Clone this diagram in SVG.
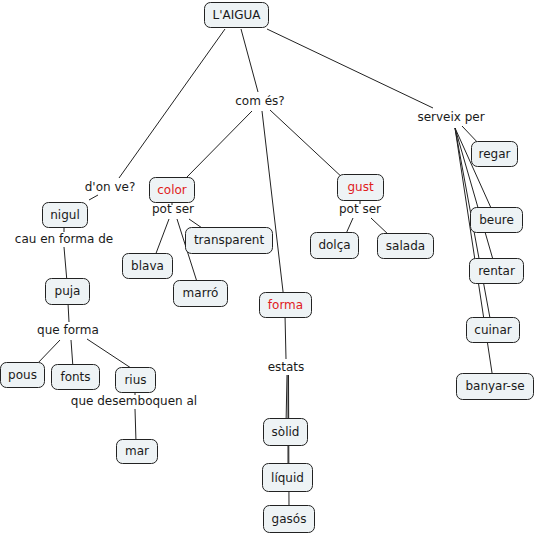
<svg xmlns="http://www.w3.org/2000/svg" width="537" height="535" viewBox="0 0 537 535">
<style>
.c line{stroke:#222;stroke-width:1;fill:none}
.n rect{fill:#eef3f5;stroke:#222;stroke-width:1}
text{font-family:"DejaVu Sans",Verdana,sans-serif;font-size:12px;fill:#1a1a1a;text-anchor:middle}
.r text{fill:#e0201c}
</style>
<rect width="537" height="535" fill="#fff"/>
<g id="connectors" class="c">
<line x1="225" y1="29" x2="119" y2="178"/>
<line x1="98" y1="195" x2="89" y2="200"/>
<line x1="241" y1="29" x2="258" y2="92"/>
<line x1="252" y1="111" x2="187" y2="177"/>
<line x1="262" y1="111" x2="284" y2="300"/>
<line x1="270" y1="110" x2="345" y2="180"/>
<line x1="267" y1="29" x2="433" y2="108"/>
<line x1="462" y1="126" x2="480" y2="145"/>
<line x1="455" y1="128" x2="496" y2="219"/>
<line x1="455" y1="128" x2="496" y2="270"/>
<line x1="455" y1="128" x2="492" y2="329"/>
<line x1="455" y1="128" x2="494" y2="386"/>
<line x1="172" y1="200" x2="172" y2="205"/>
<line x1="169" y1="219" x2="155" y2="256"/>
<line x1="177" y1="219" x2="198" y2="285"/>
<line x1="189" y1="219" x2="205" y2="230"/>
<line x1="64" y1="226" x2="64" y2="232"/>
<line x1="64" y1="247" x2="67" y2="282"/>
<line x1="68" y1="303" x2="69" y2="322"/>
<line x1="60" y1="340" x2="36" y2="365"/>
<line x1="71" y1="340" x2="73" y2="368"/>
<line x1="87" y1="339" x2="134" y2="370"/>
<line x1="135" y1="391" x2="135" y2="395"/>
<line x1="135" y1="409" x2="136" y2="442"/>
<line x1="285" y1="315" x2="286" y2="359"/>
<line x1="287" y1="375" x2="286" y2="425"/>
<line x1="288" y1="375" x2="288" y2="470"/>
<line x1="288.5" y1="375" x2="289" y2="510"/>
<line x1="360" y1="198" x2="360" y2="204"/>
<line x1="353" y1="218" x2="345" y2="236"/>
<line x1="371" y1="218" x2="390" y2="236"/>
</g>
<g id="labels">
<text x="260" y="105">com és?</text>
<text x="451" y="121">serveix per</text>
<text x="110" y="191">d'on ve?</text>
<text x="173" y="213">pot ser</text>
<text x="360" y="213">pot ser</text>
<text x="64" y="243">cau en forma de</text>
<text x="68" y="334">que forma</text>
<text x="134" y="405">que desemboquen al</text>
<text x="286" y="371">estats</text>
</g>
<g id="n-aigua" class="n"><rect x="204.5" y="2.5" width="64" height="25" rx="6"/><text x="236.5" y="19">L'AIGUA</text></g>
<g id="n-nigul" class="n"><rect x="42.5" y="202.5" width="45" height="25" rx="6"/><text x="65" y="219">nigul</text></g>
<g id="n-color" class="n r"><rect x="149.5" y="177.5" width="45" height="25" rx="6"/><text x="172" y="194">color</text></g>
<g id="n-gust" class="n r"><rect x="337.5" y="174.5" width="46" height="26" rx="6"/><text x="360.5" y="191">gust</text></g>
<g id="n-transparent" class="n"><rect x="185.5" y="227.5" width="87" height="26" rx="6"/><text x="229" y="244">transparent</text></g>
<g id="n-blava" class="n"><rect x="122.5" y="253.5" width="50" height="25" rx="6"/><text x="147.5" y="270">blava</text></g>
<g id="n-marro" class="n"><rect x="173.5" y="280.5" width="54" height="26" rx="6"/><text x="200.5" y="297">marró</text></g>
<g id="n-dolca" class="n"><rect x="310.5" y="232.5" width="48" height="26" rx="6"/><text x="334.5" y="249">dolça</text></g>
<g id="n-salada" class="n"><rect x="377.5" y="233.5" width="56" height="25" rx="6"/><text x="405.5" y="250">salada</text></g>
<g id="n-puja" class="n"><rect x="45.5" y="278.5" width="44" height="26" rx="6"/><text x="67.5" y="295">puja</text></g>
<g id="n-forma" class="n r"><rect x="259.5" y="292.5" width="52" height="25" rx="6"/><text x="285.5" y="309">forma</text></g>
<g id="n-pous" class="n"><rect x="0.5" y="362.5" width="44" height="25" rx="6"/><text x="22.5" y="379">pous</text></g>
<g id="n-fonts" class="n"><rect x="51.5" y="364.5" width="48" height="25" rx="6"/><text x="75.5" y="381">fonts</text></g>
<g id="n-rius" class="n"><rect x="115.5" y="367.5" width="40" height="25" rx="6"/><text x="135.5" y="384">rius</text></g>
<g id="n-mar" class="n"><rect x="116.5" y="439.5" width="41" height="24" rx="6"/><text x="137" y="455">mar</text></g>
<g id="n-regar" class="n"><rect x="471.5" y="141.5" width="46" height="25" rx="6"/><text x="494.5" y="158">regar</text></g>
<g id="n-beure" class="n"><rect x="470.5" y="207.5" width="52" height="25" rx="6"/><text x="496.5" y="224">beure</text></g>
<g id="n-rentar" class="n"><rect x="469.5" y="258.5" width="54" height="25" rx="6"/><text x="496.5" y="275">rentar</text></g>
<g id="n-cuinar" class="n"><rect x="466.5" y="317.5" width="53" height="25" rx="6"/><text x="493" y="334">cuinar</text></g>
<g id="n-banyarse" class="n"><rect x="456.5" y="373.5" width="77" height="26" rx="6"/><text x="495" y="390">banyar-se</text></g>
<g id="n-solid" class="n"><rect x="263.5" y="418.5" width="44" height="27" rx="6"/><text x="285.5" y="436">sòlid</text></g>
<g id="n-liquid" class="n"><rect x="262.5" y="463.5" width="50" height="28" rx="6"/><text x="287.5" y="482">líquid</text></g>
<g id="n-gasos" class="n"><rect x="263.5" y="505.5" width="51" height="27" rx="6"/><text x="289" y="523">gasós</text></g>
</svg>
